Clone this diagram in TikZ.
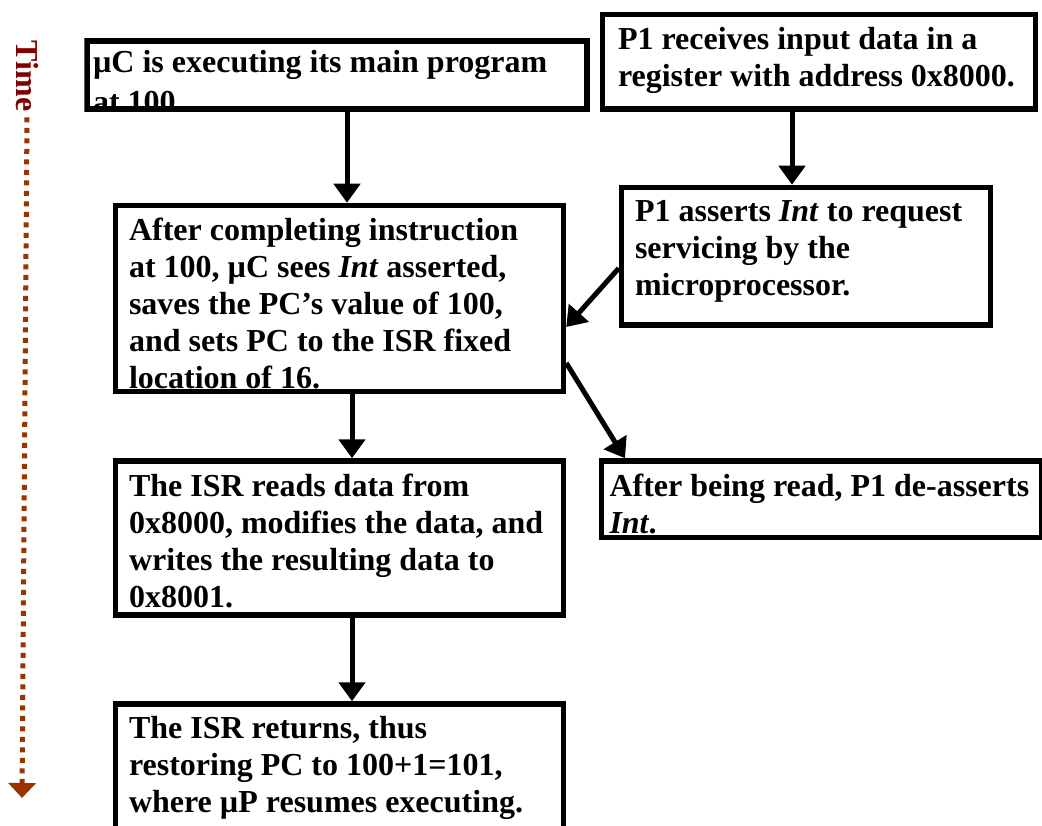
\documentclass[tikz,border=0pt]{standalone}
\usepackage{fontspec}
\setmainfont{Liberation Serif}
\usepackage{xcolor}
\usepackage{tikz}
\usetikzlibrary{arrows.meta}
\definecolor{timered}{HTML}{800000}
\definecolor{timedots}{HTML}{993300}
\newcommand{\Int}{\textit{Int}}

\begin{document}
\begin{tikzpicture}[x=1pt, y=-1pt,
    stepbox/.style={draw, line width=5.5pt, outer sep=2.75pt, inner ysep=0pt, anchor=north west, align=flush left,
      font=\bfseries\fontsize{32}{37}\selectfont},
    flowarrow/.style={-{Triangle[width=26pt, length=19pt]}, line width=5pt},
    timeline/.style={-{Triangle[width=27pt, length=15pt]}, timedots, line width=5pt, dash pattern=on 5pt off 5.5pt}]
    \useasboundingbox (0, 0) rectangle (1042, 826);
    \clip (0, 0) rectangle (1042, 826);

    \node(time) [rotate=-90, inner sep=6pt, text=timered, font=\bfseries\fontsize{32}{37}\selectfont] at (27, 76) {Time};
    \coordinate (timeend) at (22, 798);

    \begin{scope}
      \clip (84.25, 38.25) rectangle (589.75, 111.75);
      \node(main) [stepbox, text width=488pt, inner xsep=6pt, text height=32pt, text depth=36pt] at (84.25, 38.25) {µC is executing its main program\\[3pt]at 100};
    \end{scope}
    \node(input) [stepbox, text width=402pt, inner xsep=15.5pt, text height=35pt, text depth=59.5pt] at (599.75, 11.75) {P1 receives input data in a\\register with address 0x8000.};
    \node(irq) [stepbox, text width=342pt, inner xsep=13.5pt, text height=34.5pt, text depth=103pt] at (618.75, 184.75) {P1 asserts \Int{} to request\\servicing by the\\microprocessor.};
    \node(isave) [stepbox, text width=421pt, inner xsep=13.5pt, text height=35.5pt, text depth=150.5pt] at (112.75, 202.75) {After completing instruction\\at 100, µC sees \Int{} asserted,\\saves the PC’s value of 100,\\and sets PC to the ISR fixed\\location of 16.};
    \node(release) [stepbox, text width=424pt, inner xsep=8pt, text height=35.5pt, text depth=41pt] at (598.75, 458.25) {After being read, P1 de-asserts\\\Int.};
    \node(isr) [stepbox, text width=421pt, inner xsep=13.5pt, text height=35.5pt, text depth=118.5pt] at (112.75, 458.25) {The ISR reads data from\\0x8000, modifies the data, and\\writes the resulting data to\\0x8001.};
    \node(ret) [stepbox, text width=421pt, inner xsep=13.5pt, text height=34pt, text depth=150pt] at (112.75, 701.25) {The ISR returns, thus\\restoring PC to 100+1=101,\\where µP resumes executing.};

    \draw[timeline] (time.east) -- (timeend);
    \draw[flowarrow] ([xshift=10pt]main.south) -- ([xshift=10pt]main.south |- isave.north);
    \draw[flowarrow] ([xshift=-27pt]input.south) -- ([xshift=-27pt]input.south |- irq.north);
    \draw[flowarrow] ([yshift=-12pt]irq.west) -- ([yshift=-28.5pt]isave.east);
    \draw[flowarrow] ([yshift=-64.5pt]isave.east) -- ([xshift=-196.5pt]release.north);
    \draw[flowarrow] ([xshift=12.5pt]isave.south) -- ([xshift=12.5pt]isave.south |- isr.north);
    \draw[flowarrow] ([xshift=12.5pt]isr.south) -- ([xshift=12.5pt]isr.south |- ret.north);
  \end{tikzpicture}
\end{document}
